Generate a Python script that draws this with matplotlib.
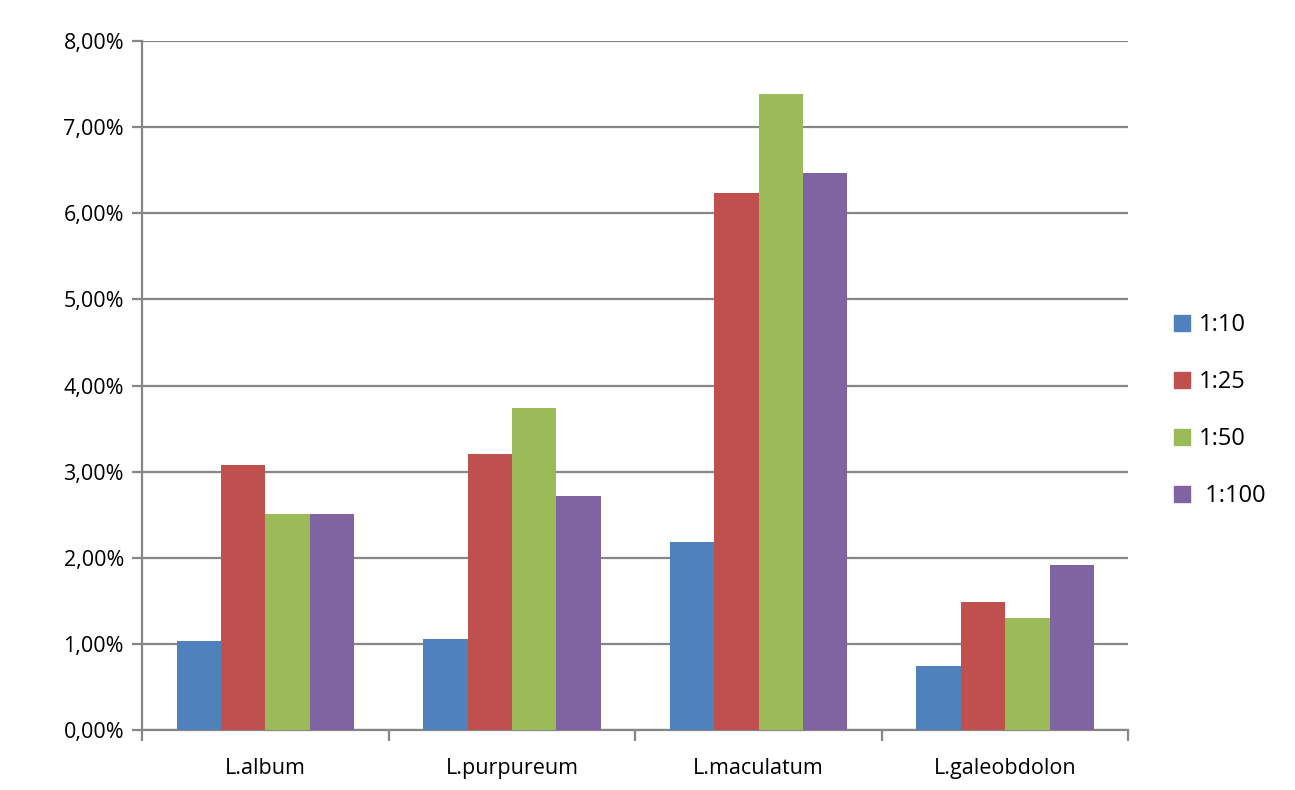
import numpy as np
import matplotlib.pyplot as plt
from matplotlib.ticker import FuncFormatter, FixedLocator
from matplotlib.patches import Patch

# data (percent)
species = ['L.album', 'L.purpureum', 'L.maculatum', 'L.galeobdolon']
series = ['1:10', '1:25', '1:50', ' 1:100']
v_10 = [1.03, 1.06, 2.18, 0.74]
v_25 = [3.08, 3.21, 6.23, 1.49]
v_50 = [2.51, 3.74, 7.39, 1.30]
v_100 = [2.51, 2.72, 6.47, 1.92]
colors = ['#4F81BD', '#C0504D', '#9BBB59', '#8064A2']

plt.rcParams['font.family'] = ['Open Sans', 'DejaVu Sans']

fig = plt.figure(figsize=(12.95, 7.9), dpi=100)
ax = fig.add_axes([0.1097, 0.076, 0.7617, 0.872])

x = np.arange(len(species))
w = 0.18
for i, vals in enumerate([v_10, v_25, v_50, v_100]):
    ax.bar(x + (i - 1.5) * w, vals, w, color=colors[i], label=series[i], zorder=3)

ax.set_xlim(-0.5, 3.5)
ax.set_ylim(0, 8)
ax.set_yticks(np.arange(0, 9, 1))
ax.yaxis.set_major_formatter(FuncFormatter(lambda v, p: ('%.2f%%' % v).replace('.', ',')))
ax.yaxis.grid(True, color='#868686', linewidth=1.6, zorder=0)

ax.set_xticks(x)
ax.set_xticklabels(species)
ax.xaxis.set_minor_locator(FixedLocator(np.arange(-0.5, 4, 1)))
ax.tick_params(axis='x', which='major', length=0, pad=20, labelsize=15.5)
ax.tick_params(axis='x', which='minor', length=8, width=1.6, color='#868686', direction='out')
ax.tick_params(axis='y', length=7, width=1.6, color='#868686', labelsize=15.5, pad=6)

for s in ['top', 'right']:
    ax.spines[s].set_visible(False)
for s in ['left', 'bottom']:
    ax.spines[s].set_color('#868686')
    ax.spines[s].set_linewidth(1.6)

handles = [Patch(color=c, label=l) for c, l in zip(colors, series)]
fig.legend(handles=handles, loc='center left', bbox_to_anchor=(0.89, 0.48),
           frameon=False, fontsize=17, handlelength=0.7, handleheight=0.7,
           labelspacing=1.4, handletextpad=0.35)

fig.savefig('out.png', dpi=100)
